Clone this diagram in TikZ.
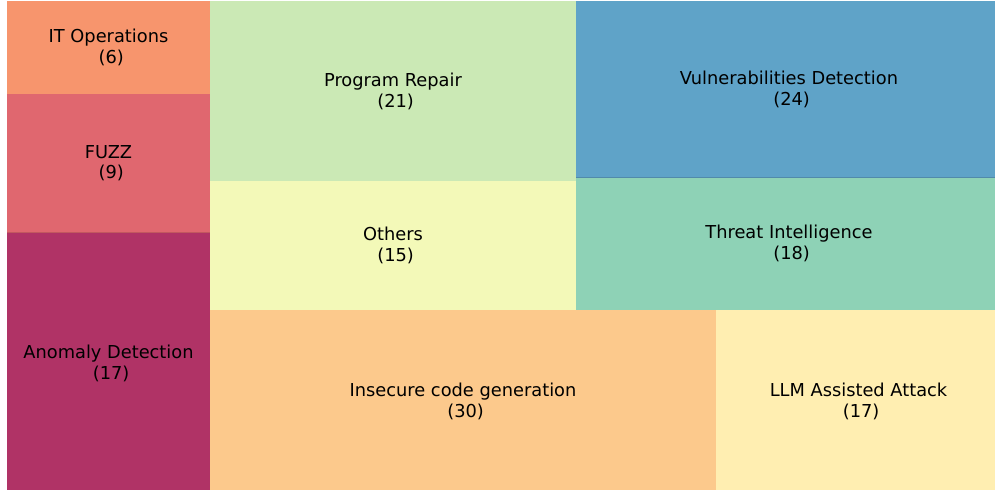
\documentclass[tikz,border=0pt]{standalone}
\usepackage{fontspec}
\setmainfont{DejaVu Sans}
\definecolor{itopscol}{RGB}{247,149,109}
\definecolor{fuzzcol}{RGB}{224,103,111}
\definecolor{anomalycol}{RGB}{176,51,102}
\definecolor{repaircol}{RGB}{203,233,181}
\definecolor{otherscol}{RGB}{243,249,184}
\definecolor{vulncol}{RGB}{95,163,200}
\definecolor{threatcol}{RGB}{142,210,182}
\definecolor{insecurecol}{RGB}{252,201,140}
\definecolor{llmcol}{RGB}{255,238,177}

\begin{document}
\begin{tikzpicture}[x=1pt,y=-1pt,
  lbl/.style={align=center,text=black,inner sep=0pt,font=\fontsize{17.8}{20.2}\selectfont}]
\useasboundingbox (0,0) rectangle (995,490);
\fill[itopscol] (7,1) rectangle (210,94);
\fill[fuzzcol] (7,94) rectangle (210,232);
\fill[anomalycol] (7,232) rectangle (210,490);
\draw[fuzzcol!80!black!70!fuzzcol, line width=.6pt] (7,232) -- (210,232);
\fill[repaircol] (210,1) rectangle (576,181);
\fill[otherscol] (210,181) rectangle (576,310);
\fill[vulncol] (576,1) rectangle (995,177);
\fill[threatcol] (576,177) rectangle (995,310);
\draw[vulncol!85!black, line width=.6pt] (576,177) -- (995,177);
\fill[insecurecol] (210,310) rectangle (716,490);
\fill[llmcol] (716,310) rectangle (995,490);
\node[lbl] (itops) at (108.5,47.5) {IT Operations\\\hspace*{.3em}(6)};
\node[lbl] (fuzz) at (108.5,163.5) {FUZZ\\\hspace*{.3em}(9)};
\node[lbl] (anomaly) at (108.5,363.5) {Anomaly Detection\\\hspace*{.3em}(17)};
\node[lbl] (repair) at (393,91.5) {Program Repair\\\hspace*{.3em}(21)};
\node[lbl] (others) at (393,245.5) {Others\\\hspace*{.3em}(15)};
\node[lbl] (vuln) at (789,89.5) {Vulnerabilities Detection\\\hspace*{.3em}(24)};
\node[lbl] (threat) at (789,243.5) {Threat Intelligence\\\hspace*{.3em}(18)};
\node[lbl] (insecure) at (463,401.5) {Insecure code generation\\\hspace*{.3em}(30)};
\node[lbl] (llm) at (858.5,401.5) {LLM Assisted Attack\\\hspace*{.3em}(17)};
\end{tikzpicture}
\end{document}
